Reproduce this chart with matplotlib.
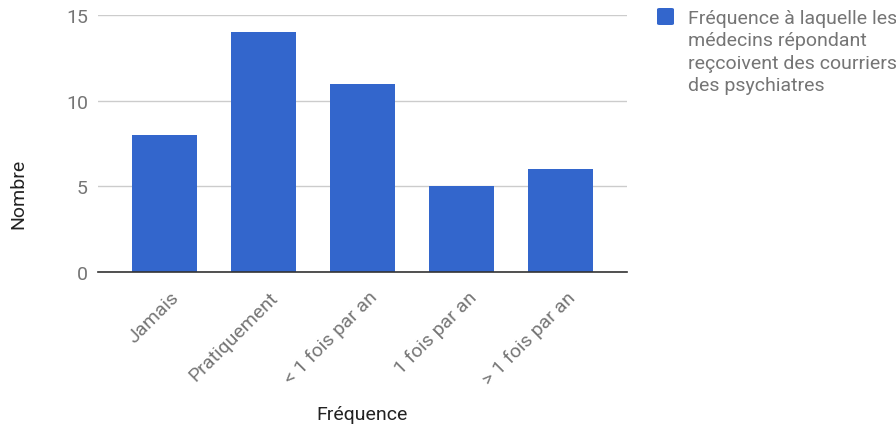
import matplotlib.pyplot as plt
import matplotlib.transforms as mtransforms
from matplotlib.patches import FancyBboxPatch

categories = ["Jamais", "Pratiquement", "< 1 fois par an", "1 fois par an", "> 1 fois par an"]
counts = [8, 14, 11, 5, 6]
series_label = "Fréquence à laquelle les\nmédecins répondant\nreçcoivent des courriers\ndes psychiatres"

plt.rcParams["font.family"] = ["Roboto", "DejaVu Sans"]

fig = plt.figure(figsize=(8.96, 4.27), dpi=100)
ax = fig.add_axes([0.109, 0.361, 0.591, 0.6015])

x = range(len(categories))
ax.bar(x, counts, width=0.655, color="#3366cc", zorder=3)

ax.set_xlim(-0.67, 4.67)
ax.set_ylim(0, 15)
ax.set_yticks([0, 5, 10, 15])
ax.grid(axis="y", color="#cccccc", linewidth=1, zorder=0)
for side in ["top", "right", "left"]:
    ax.spines[side].set_visible(False)
ax.spines["bottom"].set_color("#333333")
ax.spines["bottom"].set_linewidth(1.2)
ax.spines["bottom"].set_zorder(4)

ax.tick_params(axis="both", length=0, colors="#757575", labelsize=14)
ax.tick_params(axis="y", pad=7)
ax.set_xticks(list(x))
ax.set_xticklabels(categories, rotation=45, ha="right", va="top",
                   rotation_mode="anchor", fontsize=14)
offset = mtransforms.ScaledTranslation(0.06, -0.11, fig.dpi_scale_trans)
for lbl in ax.get_xticklabels():
    lbl.set_transform(lbl.get_transform() + offset)

fig.text(0.4045, 0.029, "Fréquence", ha="center", va="center",
         fontsize=14, color="#222222")
fig.text(0.02, 0.547, "Nombre", ha="center", va="center", rotation=90,
         fontsize=14, color="#222222")

# legend: square swatch + multi-line label, aligned to the first line
fig.patches.append(FancyBboxPatch((657 / 896, 1 - 26 / 427), 17 / 896, 17 / 427,
                                  boxstyle="round,pad=0,rounding_size=0.003",
                                  transform=fig.transFigure, facecolor="#3366cc",
                                  edgecolor="none"))
fig.text(688 / 896, 1 - 10 / 427, series_label, ha="left", va="top",
         fontsize=14, color="#757575", linespacing=1.31)

fig.savefig("out.png", dpi=100)
